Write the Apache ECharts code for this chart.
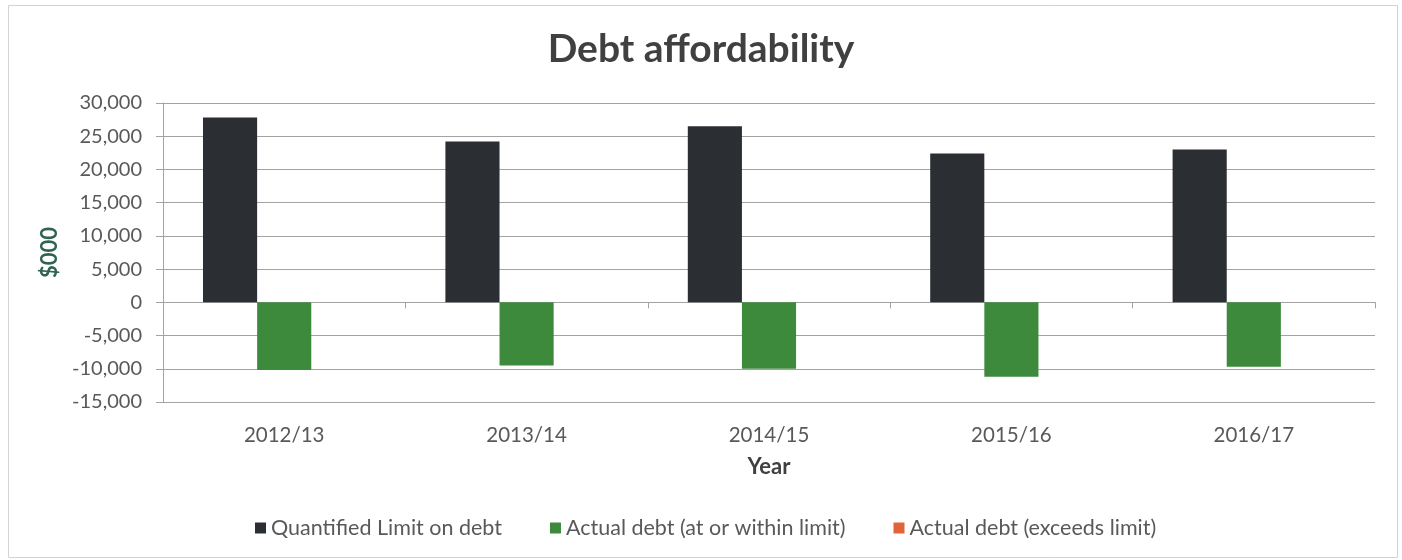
<!DOCTYPE html>
<html>
<head>
<meta charset="utf-8">
<title>Debt affordability</title>
<script src="https://cdn.jsdelivr.net/npm/echarts@6/dist/echarts.min.js"></script>
<style>
  html, body { margin: 0; padding: 0; background: #ffffff; }
  #chart { width: 1402px; height: 560px; }
</style>
</head>
<body>
<div id="chart"></div>
<script>
// Financial years on the category axis
const years = ['2012/13', '2013/14', '2014/15', '2015/16', '2016/17'];

// Quantified limit on debt ($000)
const limitOnDebt = [27800, 24200, 26500, 22400, 23000];

// Actual debt at or within the limit ($000)
const debtWithinLimit = [-10200, -9500, -10000, -11200, -9700];

// Actual debt exceeding the limit ($000) – no year exceeds
const debtExceedsLimit = [null, null, null, null, null];

// Value axis ticks
const yMin = -15000;
const yMax = 30000;
const yStep = 5000;

const seriesNames = [
  'Quantified Limit on debt',
  'Actual debt (at or within limit)',
  'Actual debt (exceeds limit)'
];
const seriesColors = ['#2b2f34', '#3e8a3c', '#e0633c'];

const font = 'Lato, "Open Sans", "Noto Sans", sans-serif';
const textColor = '#595959';
const gridColor = '#a3a3a3';

const chart = echarts.init(document.getElementById('chart'), null, { renderer: 'canvas' });

chart.setOption({
  backgroundColor: '#ffffff',
  animation: false,
  title: {
    text: 'Debt affordability',
    left: 'center',
    top: 25,
    textStyle: {
      fontFamily: font,
      fontSize: 39,
      fontWeight: 'bold',
      color: '#404040'
    }
  },
  graphic: [{
    type: 'rect',
    shape: { x: 8.5, y: 5.5, width: 1389, height: 552 },
    style: { fill: 'none', stroke: '#d3d3d3', lineWidth: 1 },
    silent: true,
    z: -1
  }],
  legend: {
    bottom: 16,
    left: 250,
    itemWidth: 11,
    itemHeight: 11,
    itemGap: 48,
    icon: 'rect',
    textStyle: { fontFamily: font, fontSize: 21.5, color: textColor },
    data: seriesNames
  },
  grid: {
    left: 163,
    right: 27,
    top: 103,
    bottom: 158,
    containLabel: false
  },
  xAxis: [
    {
      type: 'category',
      data: years,
      position: 'bottom',
      axisLine: { show: false, onZero: false },
      axisTick: { show: false },
      axisLabel: {
        margin: 23,
        fontFamily: font,
        fontSize: 20.5,
        color: textColor
      },
      name: 'Year',
      nameLocation: 'middle',
      nameGap: 54,
      nameTextStyle: {
        fontFamily: font,
        fontSize: 22,
        fontWeight: 'bold',
        color: '#404040'
      }
    },
    {
      // Category boundary line drawn across zero with small ticks
      type: 'category',
      data: years,
      position: 'bottom',
      axisLine: { show: true, onZero: true, lineStyle: { color: gridColor, width: 1 } },
      axisTick: { show: true, length: 6, inside: false, lineStyle: { color: gridColor } },
      axisLabel: { show: false }
    }
  ],
  yAxis: {
    type: 'value',
    min: yMin,
    max: yMax,
    interval: yStep,
    axisLine: { show: true, lineStyle: { color: gridColor, width: 1 } },
    axisTick: { show: true, length: 7, lineStyle: { color: gridColor } },
    splitLine: { show: true, lineStyle: { color: gridColor, width: 1 } },
    axisLabel: {
      margin: 21,
      fontFamily: font,
      fontSize: 20,
      color: textColor,
      formatter: v => v.toLocaleString('en-US')
    },
    name: '$000',
    nameLocation: 'middle',
    nameGap: 102,
    nameRotate: 90,
    nameTextStyle: {
      fontFamily: font,
      fontSize: 22,
      fontWeight: 'bold',
      color: '#2f6353'
    }
  },
  series: [
    {
      name: seriesNames[0],
      type: 'bar',
      xAxisIndex: 0,
      data: limitOnDebt,
      itemStyle: { color: seriesColors[0] },
      barGap: '0%',
      barCategoryGap: '33%'
    },
    {
      name: seriesNames[1],
      type: 'bar',
      xAxisIndex: 0,
      data: debtWithinLimit,
      itemStyle: { color: seriesColors[1] },
      barGap: '0%',
      barCategoryGap: '33%'
    },
    {
      name: seriesNames[2],
      type: 'bar',
      xAxisIndex: 0,
      data: debtExceedsLimit,
      itemStyle: { color: seriesColors[2] },
      barGap: '0%',
      barCategoryGap: '33%'
    }
  ]
});
</script>
</body>
</html>
